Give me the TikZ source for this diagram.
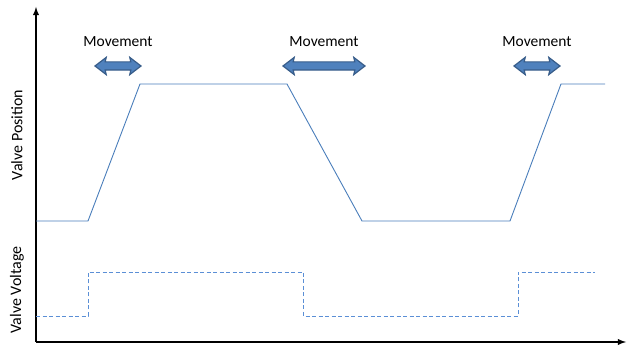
\documentclass[tikz,border=0pt]{standalone}
\usepackage{fontspec}
\setmainfont{Carlito}
\usetikzlibrary{shapes.arrows,positioning}

\definecolor{posblue}{HTML}{4A7EBB}
\definecolor{voltblue}{HTML}{5B8FD6}
\definecolor{arrowfill}{HTML}{4F81BD}
\definecolor{arrowedge}{HTML}{385D8A}

\tikzset{
  axis/.style={line width=1.8pt,-latex},
  posline/.style={posblue,line width=0.9pt},
  voltline/.style={voltblue,line width=0.9pt,dash pattern=on 4pt off 2.5pt},
  movearrow/.style={double arrow,fill=arrowfill,draw=arrowedge,line width=1.2pt,
    inner xsep=0pt,inner ysep=3.5pt,double arrow head extend=4.5pt,
    double arrow tip angle=75,double arrow head indent=1pt},
  movelabel/.style={font=\fontsize{15.5}{18}\selectfont,inner sep=1pt},
  axislabel/.style={font=\fontsize{16}{18}\selectfont,rotate=90}
}

\begin{document}
\begin{tikzpicture}[x=1pt,y=-1pt]
  % page
  \useasboundingbox (0,0) rectangle (627,347);

  % axes
  \coordinate (O) at (36,342);
  \draw[axis] (O) -- (36,7);
  \draw[axis] (O) -- (626,342);

  % axis labels
  \node[axislabel] (pos) at (17,135) {Valve Position};
  \node[axislabel] (volt) at (17,290) {Valve Voltage};

  % valve position
  \draw[posline] (36,221) -- (88,221) -- (140,84) -- (287,84)
    -- (362,221) -- (510,221) -- (561,84) -- (605,84);

  % valve voltage
  \draw[voltline] (36,316) -- (88,316) -- (88,272) -- (303,272)
    -- (303,316) -- (518,316) -- (518,272) -- (595,272);

  % movement arrows
  \node[movearrow,minimum height=46pt] (m1) at (118,66) {};
  \node[movearrow,minimum height=82pt] (m2) at (324,66) {};
  \node[movearrow,minimum height=46pt] (m3) at (537,66) {};

  \node[movelabel,above=13pt of m1] (l1) {Movement};
  \node[movelabel,above=13pt of m2] (l2) {Movement};
  \node[movelabel,above=13pt of m3] (l3) {Movement};
\end{tikzpicture}
\end{document}
